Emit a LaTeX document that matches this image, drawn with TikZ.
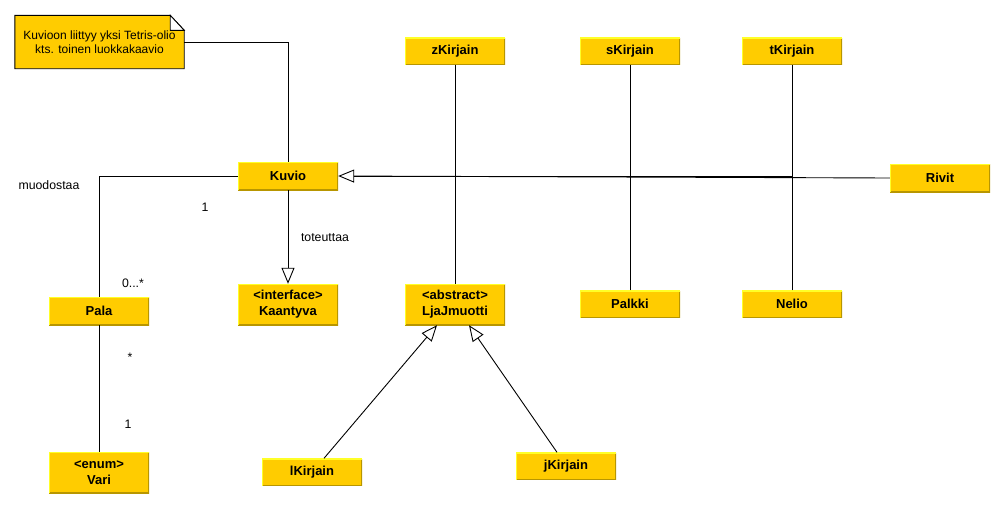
\documentclass[tikz,border=0pt]{standalone}
\usepackage{fontspec}
\setmainfont{Liberation Sans}
\usepackage{tikz}
\usetikzlibrary{positioning,arrows.meta,backgrounds}
\definecolor{clsfill}{RGB}{255,204,0}
\definecolor{clslight}{RGB}{255,255,40}
\definecolor{clsdark}{RGB}{184,150,0}

\begin{document}
\begin{tikzpicture}[x=1pt,y=-1pt,
  cls/.style={rectangle,fill=clsfill,inner sep=0pt,minimum width=100pt,minimum height=#1,align=center,
    font=\fontsize{13}{16}\selectfont\bfseries,
    path picture={
      \draw[clsdark,line width=2pt] (path picture bounding box.south west) -| (path picture bounding box.north east);
      \draw[clslight,line width=2pt] (path picture bounding box.south west) |- (path picture bounding box.north east);}},
  cls/.default=28pt,
  lab/.style={font=\fontsize{12.3}{14}\selectfont,inner sep=0pt},
  gen/.style={draw,line width=0.9pt,-{Triangle[open,length=16pt,width=13pt]}},
  assoc/.style={draw,line width=0.9pt},
]
\useasboundingbox (0,0) rectangle (1006,509);

% Note - top left
\node[lab,minimum width=169pt,minimum height=53pt,align=center,font=\fontsize{12}{14}\selectfont] (note) at (99.5,42) {Kuvioon liittyy yksi Tetris-olio\\kts. toinen luokkakaavio};
\begin{scope}[on background layer]
\filldraw[fill=clsfill,line width=0.9pt] (note.north west) -- ([xshift=-14pt]note.north east) -- ([yshift=-15pt]note.north east) -- (note.south east) -- (note.south west) -- cycle;
\filldraw[fill=white,line width=0.9pt] ([xshift=-14pt]note.north east) -- ([xshift=-14pt,yshift=-15pt]note.north east) -- ([yshift=-15pt]note.north east) -- cycle;
\end{scope}

% Kuvio and its neighbours
\node[cls] (kuvio) at (288,176) {Kuvio};
\node[cls=41pt] (kaantyva) at (288,304.5) {<interface>\\Kaantyva};
\node[cls] (pala) at (99,311) {Pala};
\node[cls=41pt] (vari) at (99,472.5) {<enum>\\Vari};

% Letters - top row
\node[cls=27pt] (zkirjain) at (455,51) {zKirjain};
\node[cls=27pt] (skirjain) at (630,51) {sKirjain};
\node[cls=27pt] (tkirjain) at (792,51) {tKirjain};
\node[cls] (rivit) at (940,178) {Rivit};

% Letters - middle row
\node[cls=41pt] (ljajmuotti) at (455,304.5) {<abstract>\\LjaJmuotti};
\node[cls=27pt] (palkki) at (630,304) {Palkki};
\node[cls=27pt] (nelio) at (792,304) {Nelio};

% Letters - bottom row
\node[cls=27pt] (lkirjain) at (312,472) {lKirjain};
\node[cls=27pt] (jkirjain) at (566,466) {jKirjain};

% Generalisations into Kuvio
\foreach \n in {zkirjain,skirjain,tkirjain}
  \draw[assoc,shorten >=16pt] (\n.south) |- (kuvio.east);
\foreach \n in {ljajmuotti,palkki,nelio}
  \draw[assoc,shorten >=16pt] (\n.north) |- (kuvio.east);
\draw[gen] (rivit.west) -- (kuvio.east);
\draw[gen] (kuvio) -- (kaantyva);
\draw[gen] ([xshift=12pt]lkirjain.north) -- ([xshift=-18pt]ljajmuotti.south);
\draw[gen] ([xshift=-9pt]jkirjain.north) -- ([xshift=14pt]ljajmuotti.south);

% Associations
\draw[assoc] (note.east) -| (kuvio.north);
\draw[assoc] (kuvio.west) -| (pala.north);
\draw[assoc] (pala) -- (vari);

% Labels
\node[lab] (lmuod) at (49,185) {muodostaa};
\node[lab] (lyksi) at (205,207) {1};
\node[lab] (ltot) at (325,238) {toteuttaa};
\node[lab] (lmonta) at (133,283) {0...*};
\node[lab] (ltahti) at (130,357) {*};
\node[lab] (lyks2) at (128,424) {1};
\end{tikzpicture}
\end{document}
